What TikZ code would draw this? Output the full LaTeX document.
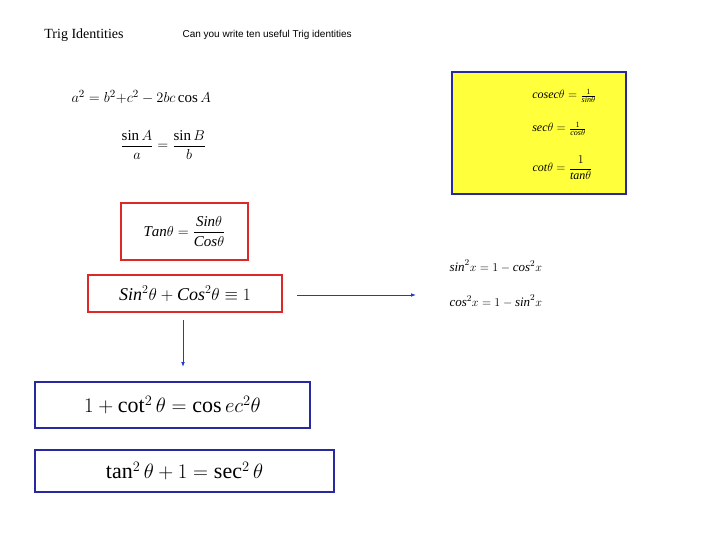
\documentclass[tikz,border=0pt]{standalone}
\usepackage{amsmath}
\usepackage{fontspec}
\setmainfont{Liberation Serif}
\newfontfamily\arialfont{Liberation Sans}
\usetikzlibrary{arrows.meta}
\definecolor{bblue}{RGB}{40,40,160}
\definecolor{rred}{RGB}{220,40,40}
\definecolor{yel}{RGB}{255,255,60}
\definecolor{arr}{RGB}{30,60,200}
\tikzset{redbox/.style={draw=rred,line width=1.5pt,inner sep=2pt},
 bluebox/.style={draw=bblue,line width=1.5pt,inner sep=2pt},
 conn/.style={draw=arr,line width=1pt,-{Latex[length=5pt]}}}
\begin{document}
\begin{tikzpicture}[x=1pt,y=-1pt]
\useasboundingbox (0,0) rectangle (720,540);
\node[font=\fontsize{14}{16}\selectfont] (t) at (84,35) {Trig Identities};
\node[anchor=west,font=\arialfont\fontsize{10}{12}\selectfont] (q) at (179,35) {Can you write ten useful Trig identities};
\node[anchor=west,font=\fontsize{15}{18}\selectfont] (e1) at (68,97) {$a^2=b^2{+}c^2-2bc\cos A$};
\node[anchor=west,font=\fontsize{15}{18}\selectfont] (e2) at (117,145) {$\dfrac{\sin A}{a}=\dfrac{\sin B}{b}$};
\node[redbox,minimum width=127pt,minimum height=57pt,font=\fontsize{15}{18}\selectfont] (e3) at (184.5,231.5) {$\mathit{Tan}\theta=\dfrac{\mathit{Sin}\theta}{\mathit{Cos}\theta}$};
\node[redbox,minimum width=194pt,minimum height=37pt,font=\fontsize{18}{20}\selectfont] (e4) at (185,293.5) {$\mathit{Sin}^2\theta+\mathit{Cos}^2\theta\equiv1$};
\node[bluebox,minimum width=275pt,minimum height=46pt,font=\fontsize{22}{24}\selectfont] (e5) at (172.5,405) {$1+\cot^2\theta=\cos ec^2\theta$};
\node[bluebox,minimum width=299pt,minimum height=42pt,font=\fontsize{22}{24}\selectfont] (e6) at (184.5,471) {$\tan^2\theta+1=\sec^2\theta$};
\node[draw=bblue,fill=yel,line width=1.2pt,minimum width=174pt,minimum height=122pt] (y) at (539,133) {};
\node[anchor=east,font=\fontsize{12}{14}\selectfont] (c1) at (600,96) {$\mathit{cosec}\theta=\frac{1}{\mathit{sin}\theta}$};
\node[anchor=east,font=\fontsize{12}{14}\selectfont] (c2) at (590,129) {$\mathit{sec}\theta=\frac{1}{\mathit{cos}\theta}$};
\node[anchor=east,font=\fontsize{12}{14}\selectfont] (c3) at (596,168) {$\mathit{cot}\theta=\dfrac{1}{\mathit{tan}\theta}$};
\node[anchor=west,font=\fontsize{13}{15}\selectfont] (s1) at (446,266) {$\mathit{sin}^2x=1-\mathit{cos}^2x$};
\node[anchor=west,font=\fontsize{13}{15}\selectfont] (s2) at (446,301) {$\mathit{cos}^2x=1-\mathit{sin}^2x$};
\coordinate (a1) at (297,295);
\coordinate (a2) at (416,295);
\coordinate (b1) at (183,320);
\coordinate (b2) at (183,367);
\draw[conn] (a1) -- (a2);
\draw[conn] (b1) -- (b2);
\end{tikzpicture}
\end{document}
